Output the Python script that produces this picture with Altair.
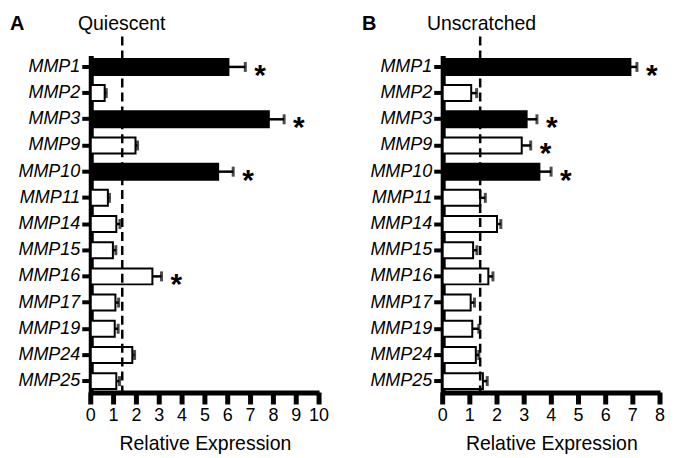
import altair as alt
import pandas as pd

FONT = "Liberation Sans"

genes = ["MMP1", "MMP2", "MMP3", "MMP9", "MMP10", "MMP11", "MMP14",
         "MMP15", "MMP16", "MMP17", "MMP19", "MMP24", "MMP25"]

# Panel A: Quiescent
a_mean = [6.03, 0.61, 7.80, 1.96, 5.58, 0.75, 1.12, 0.97, 2.70, 1.08, 1.05, 1.82, 1.12]
a_upper = [6.77, 0.68, 8.47, 2.05, 6.24, 0.82, 1.28, 1.10, 3.10, 1.22, 1.20, 1.92, 1.26]
a_filled = [1, 0, 1, 0, 1, 0, 0, 0, 0, 0, 0, 0, 0]
a_sig = [1, 0, 1, 0, 1, 0, 0, 0, 1, 0, 0, 0, 0]

# Panel B: Unscratched
b_mean = [6.91, 1.05, 3.09, 2.91, 3.56, 1.38, 2.00, 1.12, 1.68, 1.03, 1.09, 1.22, 1.48]
b_upper = [7.15, 1.25, 3.47, 3.24, 3.99, 1.57, 2.14, 1.26, 1.85, 1.17, 1.33, 1.33, 1.64]
b_filled = [1, 0, 1, 0, 1, 0, 0, 0, 0, 0, 0, 0, 0]
b_sig = [1, 0, 1, 1, 1, 0, 0, 0, 0, 0, 0, 0, 0]

threshold = [1.38]
panel_letters = ["A", "B"]
conditions = ["Quiescent", "Unscratched"]
x_ticks_a = [0, 1, 2, 3, 4, 5, 6, 7, 8, 9, 10]
x_ticks_b = [0, 1, 2, 3, 4, 5, 6, 7, 8]

H = 338


def panel(mean, upper, filled, sig, ticks, width, letter, cond, cond_x):
    xmax = ticks[-1]
    df = pd.DataFrame({
        "gene": genes,
        "mean": mean,
        "upper": upper,
        "fill": ["black" if f else "white" for f in filled],
        "sig": sig,
    })
    tdf = pd.DataFrame({"t": ticks, "lab": [str(v) for v in ticks]})
    yax = alt.Axis(labelFont=FONT, labelFontStyle="italic", labelFontSize=18,
                   labelColor="black", domainColor="black", domainWidth=5,
                   tickColor="black", tickWidth=4, tickSize=9, labelPadding=2)
    ysc = alt.Scale(paddingInner=0.39, paddingOuter=0.13)
    xax = alt.Axis(labels=False, ticks=False, domainColor="black", domainWidth=5,
                   titleFont=FONT, titleFontSize=19.5, titleFontWeight="normal",
                   titleColor="black", titlePadding=42)
    xsc = alt.Scale(domain=[0, xmax], nice=False, zero=True)

    def X(f):
        return alt.X(f, title="Relative Expression", scale=xsc, axis=xax)

    def Y():
        return alt.Y("gene:N", sort=genes, title=None, scale=ysc, axis=yax)

    base = alt.Chart(df)
    bars = base.mark_bar(stroke="black", strokeWidth=2).encode(
        x=X("mean:Q"), y=Y(), fill=alt.Fill("fill:N", scale=None))
    err = base.mark_rule(color="black", strokeWidth=2.5).encode(
        x=X("mean:Q"), x2="upper:Q", y=Y())
    cap = base.mark_tick(color="black", thickness=3, size=10, orient="vertical").encode(
        x=X("upper:Q"), y=Y())
    stars = base.transform_filter(alt.datum.sig == 1).mark_text(
        text="*", align="left", baseline="alphabetic", dx=9, dy=18,
        fontSize=30, fontWeight="bold", font=FONT, color="black").encode(
        x=X("upper:Q"), y=Y())
    dash = alt.Chart(pd.DataFrame({"t": threshold})).mark_rule(
        color="black", strokeWidth=2.5, strokeDash=[9, 5]).encode(
        x=X("t:Q"), y=alt.value(-19), y2=alt.value(H))
    tick_marks = alt.Chart(tdf).mark_tick(
        color="black", thickness=5, size=12, orient="vertical", opacity=1).encode(
        x=X("t:Q"), y=alt.value(H + 6))
    tick_labels = alt.Chart(tdf).mark_text(
        align="center", baseline="middle", fontSize=18, font=FONT, color="black").encode(
        x=X("t:Q"), y=alt.value(H + 24), text="lab:N")
    let = alt.Chart(pd.DataFrame({"t": [letter]})).mark_text(
        align="left", baseline="alphabetic", fontSize=20, fontWeight="bold",
        font=FONT, color="black").encode(
        text="t:N", x=alt.value(-81), y=alt.value(-26))
    ttl = alt.Chart(pd.DataFrame({"t": [cond]})).mark_text(
        align="center", baseline="alphabetic", fontSize=19.5,
        font=FONT, color="black").encode(
        text="t:N", x=alt.value(cond_x), y=alt.value(-26))
    return alt.layer(bars, err, cap, stars, dash, tick_marks, tick_labels, let, ttl).properties(
        width=width, height=H)


pa = panel(a_mean, a_upper, a_filled, a_sig, x_ticks_a, 229, panel_letters[0], conditions[0], 31)
pb = panel(b_mean, b_upper, b_filled, b_sig, x_ticks_b, 218, panel_letters[1], conditions[1], 39)

chart = alt.hconcat(pa, pb, spacing=32).properties(
    padding={"left": 2, "top": 5, "right": 0, "bottom": 0}
).configure_axis(grid=False).configure_view(stroke=None)

chart.save("out.html", embed_options={"renderer": "svg", "actions": False})
